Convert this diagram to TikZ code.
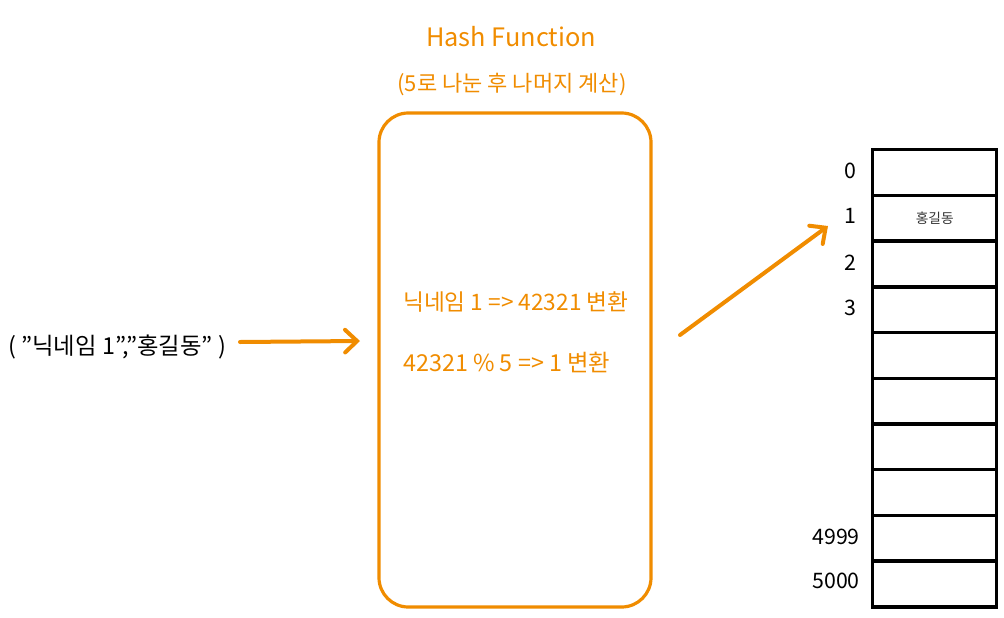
\documentclass[tikz,border=0pt]{standalone}
\usepackage{fontspec}
\setmainfont{Noto Sans CJK KR}
\usetikzlibrary{arrows.meta}
\definecolor{hashorange}{HTML}{F08C00}
\newcommand{\dq}{\char"22\relax}
\begin{document}
\begin{tikzpicture}[x=0.75pt,y=-0.75pt,
  otext/.style={text=hashorange, inner sep=0pt},
  flow/.style={draw=hashorange, line width=3pt, line cap=round, line join=round,
    -{Straight Barb[length=9pt,width=17pt,line width=3pt,line cap=round]}},
  cell/.style={draw=black, line width=2.6pt, minimum width=93pt, minimum height=34.3pt, inner sep=0pt, anchor=north west},
  idx/.style={font=\fontsize{16}{18}\selectfont, inner sep=0pt}]
\useasboundingbox (0,0) rectangle (1004,618);
% title
\node[otext, font=\fontsize{19}{22}\selectfont] (title) at (511,37) {Hash Function};
\node[otext, font=\fontsize{16.5}{19}\selectfont] (sub) at (512,85) {(5로 나눈 후 나머지 계산)};
% hash box
\node[draw=hashorange, line width=2.4pt, rounded corners=22pt, minimum width=204pt, minimum height=370.5pt, inner sep=0pt] (hash) at (515,360) {};
\node[otext, anchor=west, font=\fontsize{17}{20}\selectfont] (l1) at (403,302) {닉네임 1 => 42321 변환};
\node[otext, anchor=west, font=\fontsize{17.5}{20}\selectfont] (l2) at (403,362) {42321 \% 5 => 1 변환};
% input
\node[anchor=west, inner sep=0pt, font=\fontsize{17.5}{20}\selectfont] (input) at (8,347) {( \dq 닉네임 1\dq,\dq 홍길동\dq\ )};
\coordinate (a1s) at (240,342);
\coordinate (a1e) at (360,341);
\draw[flow] (a1s) -- (a1e);
\coordinate (a2s) at (680,335);
\coordinate (a2e) at (828,226);
\draw[flow] (a2s) -- (a2e);
% table
\foreach \i in {0,...,9} {
  \node[cell] (c\i) at (871,{148+\i*45.7}) {};
}
\node[inner sep=0pt, text=black!80, font=\fontsize{10.3}{12}\selectfont] (v1) at (c1.center) {홍길동};
\node[idx] (n0) at (850,171) {0};
\node[idx] (n1) at (850,216) {1};
\node[idx] (n2) at (850,263) {2};
\node[idx] (n3) at (850,308) {3};
\node[idx, anchor=east] (n4999) at (860,537) {4999};
\node[idx, anchor=east] (n5000) at (860,581) {5000};
\end{tikzpicture}
\end{document}
